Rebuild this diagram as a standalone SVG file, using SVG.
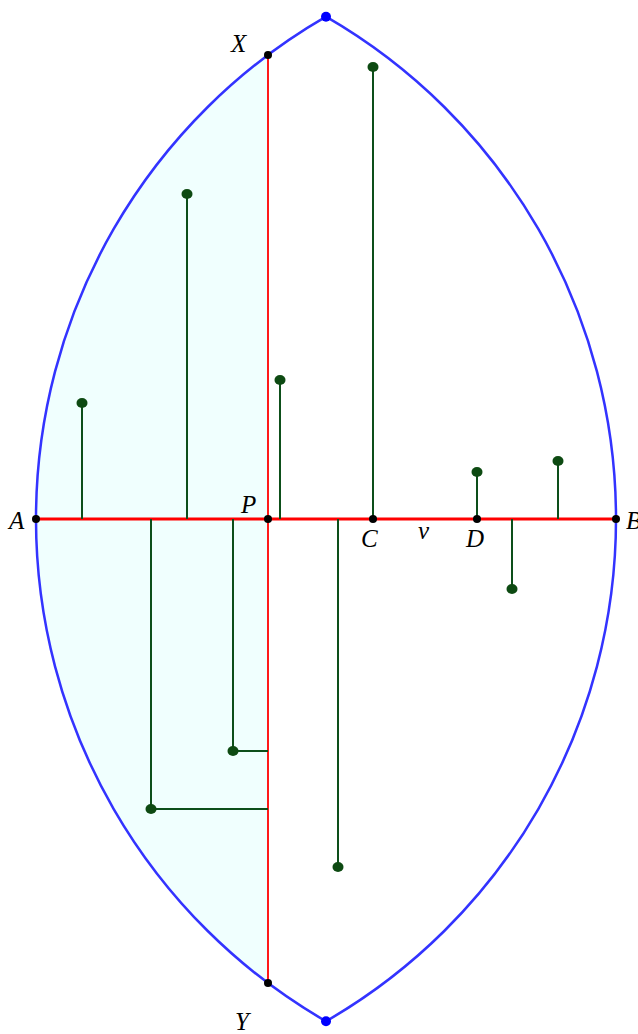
<svg xmlns="http://www.w3.org/2000/svg" width="638" height="1034" viewBox="0 0 638 1034">
<style>
.lens{fill:none;stroke:#3333ff;stroke-width:2.5}
.stem{fill:none;stroke:#0d4f1a;stroke-width:2}
.gdot{fill:#0d4a12}
.kdot{fill:#000}
.bdot{fill:#0000ff}
.lbl{font-family:"Liberation Serif",serif;font-style:italic;font-size:25px;fill:#000}
</style>
<rect width="638" height="1034" fill="#fff"/>
<g id="shade">
<path d="M268,55 A580,580 0 0 0 268,983 Z" fill="#f0fffe" stroke="none"/>
</g>
<g id="lens">
<path class="lens" d="M326,16.7 A580,580 0 0 0 326,1021.3 A580,580 0 0 0 326,16.7 Z"/>
</g>
<g id="axes">
<line x1="268" y1="55" x2="268" y2="983" stroke="#ff0000" stroke-width="1.8"/>
<line x1="36" y1="519" x2="616" y2="519" stroke="#ff0000" stroke-width="3.2"/>
</g>
<g id="connectors">
<path class="stem" d="M82,519V403"/>
<path class="stem" d="M187,519V194"/>
<path class="stem" d="M280,519V380"/>
<path class="stem" d="M373,519V67"/>
<path class="stem" d="M477,519V472"/>
<path class="stem" d="M558,519V461"/>
<path class="stem" d="M512,519V589"/>
<path class="stem" d="M338,519V867"/>
<path class="stem" d="M233,519V751H268"/>
<path class="stem" d="M151,519V809H268"/>
</g>
<g id="green-points">
<ellipse class="gdot" cx="82" cy="403" rx="5.5" ry="5"/>
<ellipse class="gdot" cx="187" cy="194" rx="5.5" ry="5"/>
<ellipse class="gdot" cx="280" cy="380" rx="5.5" ry="5"/>
<ellipse class="gdot" cx="373" cy="67" rx="5.5" ry="5"/>
<ellipse class="gdot" cx="477" cy="472" rx="5.5" ry="5"/>
<ellipse class="gdot" cx="558" cy="461" rx="5.5" ry="5"/>
<ellipse class="gdot" cx="512" cy="589" rx="5.5" ry="5"/>
<ellipse class="gdot" cx="338" cy="867" rx="5.5" ry="5"/>
<ellipse class="gdot" cx="233" cy="751" rx="5.5" ry="5"/>
<ellipse class="gdot" cx="151" cy="809" rx="5.5" ry="5"/>
</g>
<g id="node-A"><circle class="kdot" cx="36" cy="519" r="4"/><text class="lbl" x="9" y="529">A</text></g>
<g id="node-B"><circle class="kdot" cx="616" cy="519" r="4"/><text class="lbl" x="626" y="529">B</text></g>
<g id="node-P"><circle class="kdot" cx="268" cy="519" r="4"/><text class="lbl" x="241" y="513">P</text></g>
<g id="node-C"><circle class="kdot" cx="373" cy="519" r="4"/><text class="lbl" x="361" y="547">C</text></g>
<g id="node-D"><circle class="kdot" cx="477" cy="519" r="4"/><text class="lbl" x="466" y="547">D</text></g>
<g id="node-X"><circle class="kdot" cx="268" cy="55" r="4"/><text class="lbl" x="231" y="52">X</text></g>
<g id="node-Y"><circle class="kdot" cx="268" cy="983" r="4"/><text class="lbl" x="235" y="1030">Y</text></g>
<g id="label-v"><text class="lbl" x="418" y="539">v</text></g>
<g id="node-top"><circle class="bdot" cx="326" cy="16.7" r="5"/></g>
<g id="node-bottom"><circle class="bdot" cx="326" cy="1021.3" r="5"/></g>
</svg>
